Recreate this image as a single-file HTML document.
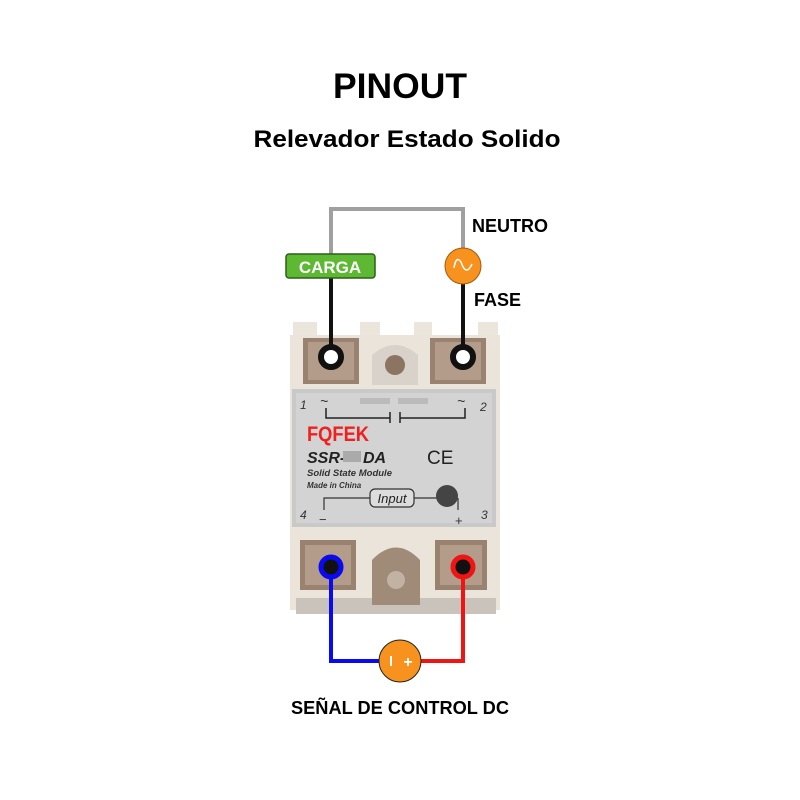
<!DOCTYPE html>
<html><head><meta charset="utf-8"><style>html,body{margin:0;padding:0;background:#fff}svg{display:block}</style></head>
<body>
<svg width="800" height="800" viewBox="0 0 800 800" xmlns="http://www.w3.org/2000/svg" font-family="Liberation Sans, sans-serif">
<rect width="800" height="800" fill="#fff"/>
<text x="400" y="98" text-anchor="middle" font-size="35" font-weight="bold" textLength="134" lengthAdjust="spacingAndGlyphs">PINOUT</text>
<text x="407" y="147" text-anchor="middle" font-size="24" font-weight="bold" textLength="307" lengthAdjust="spacingAndGlyphs">Relevador Estado Solido</text>
<!-- relay body -->
<rect x="293" y="322" width="24" height="30" fill="#ece5db"/>
<rect x="478" y="322" width="20" height="30" fill="#ece5db"/>
<rect x="360" y="322" width="20" height="30" fill="#ece5db"/>
<rect x="414" y="322" width="18" height="30" fill="#ece5db"/>
<rect x="290" y="335" width="210" height="275" fill="#ebe4da"/>
<rect x="296" y="598" width="200" height="16" fill="#c9c3bb"/>
<!-- top terminals -->
<rect x="303" y="338" width="56" height="46" fill="#9a8270"/>
<rect x="308" y="342" width="46" height="38" fill="#b39c8a"/>
<rect x="430" y="338" width="56" height="46" fill="#9a8270"/>
<rect x="435" y="342" width="46" height="38" fill="#b39c8a"/>
<path d="M372 385 V355 Q395 335 418 355 V385 Z" fill="#d9d2ca"/>
<circle cx="395" cy="365" r="10" fill="#8c7462"/>
<!-- plate -->
<rect x="292" y="389" width="204" height="138" fill="#c9c9c9"/>
<rect x="296" y="393" width="196" height="130" fill="#d3d3d3"/>
<g fill="#333" font-style="italic" font-size="12">
<text x="300" y="409">1</text><text x="480" y="411">2</text>
<text x="300" y="519">4</text><text x="481" y="519">3</text>
<text x="320" y="406" font-size="14">~</text><text x="457" y="406" font-size="14">~</text>
</g>
<path d="M326 408 V418 H390 M400 418 H465 V408 M390 412 V423 M400 412 V423" stroke="#222" stroke-width="1.5" fill="none"/>
<rect x="360" y="398" width="30" height="6" fill="#bbb"/><rect x="398" y="398" width="30" height="6" fill="#bbb"/>
<text x="307" y="441" font-size="21" font-weight="bold" fill="#f02020" textLength="62" lengthAdjust="spacingAndGlyphs">FQFEK</text>
<text x="307" y="463" font-size="16" font-weight="bold" font-style="italic" fill="#222">SSR-</text>
<rect x="343" y="451" width="18" height="11" fill="#aaa"/>
<text x="363" y="463" font-size="16" font-weight="bold" font-style="italic" fill="#222">DA</text>
<text x="427" y="464" font-size="19" fill="#222">CE</text>
<text x="307" y="476" font-size="9.5" font-style="italic" font-weight="bold" fill="#333">Solid State Module</text>
<text x="307" y="488" font-size="8" font-style="italic" font-weight="bold" fill="#333">Made in China</text>
<path d="M324 510 V498 H370 M414 498 H440 M458 498 V510" stroke="#333" stroke-width="1.2" fill="none"/>
<rect x="370" y="489" width="44" height="18" rx="5" fill="#ddd" stroke="#333" stroke-width="1.2"/>
<text x="392" y="503" text-anchor="middle" font-size="13" font-style="italic" fill="#222">Input</text>
<circle cx="447" cy="496" r="11" fill="#444"/>
<text x="319" y="524" font-size="13" fill="#333">−</text><text x="455" y="525" font-size="13" fill="#333">+</text>
<!-- bottom terminals -->
<rect x="300" y="540" width="56" height="50" fill="#9a8270"/>
<rect x="305" y="545" width="46" height="40" fill="#b39c8a"/>
<rect x="435" y="540" width="52" height="50" fill="#9a8270"/>
<rect x="440" y="545" width="42" height="40" fill="#b39c8a"/>
<path d="M372 605 V560 Q396 535 420 560 V605 Z" fill="#a08a78"/>
<circle cx="396" cy="580" r="9" fill="#c2b2a4"/>
<!-- wires -->
<path d="M331 255 V209 H463 V250" stroke="#a0a0a0" stroke-width="4" fill="none"/>
<path d="M331 278 V355 M463 282 V357" stroke="#111" stroke-width="4" fill="none"/>
<circle cx="331" cy="357" r="10" fill="#fff" stroke="#111" stroke-width="6"/>
<circle cx="463" cy="357" r="10" fill="#fff" stroke="#111" stroke-width="6"/>
<rect x="286" y="254" width="89" height="24" rx="3" fill="#5db832" stroke="#2f5e1a" stroke-width="1.5"/>
<text x="330" y="273" text-anchor="middle" font-size="17" font-weight="bold" fill="#fff">CARGA</text>
<circle cx="463" cy="266" r="18" fill="#f7921e" stroke="#a35a10" stroke-width="1"/>
<path d="M454 268 Q456 255 461 262 Q466 277 472 264" stroke="#fff" stroke-width="1.5" fill="none"/>
<text x="472" y="232" font-size="18" font-weight="bold">NEUTRO</text>
<text x="474" y="306" font-size="18" font-weight="bold">FASE</text>
<path d="M331 566 V661 H380" stroke="#0a0af0" stroke-width="4" fill="none"/>
<path d="M463 566 V661 H420" stroke="#f01515" stroke-width="4" fill="none"/>
<circle cx="331" cy="567" r="10" fill="#111" stroke="#0a0af0" stroke-width="5"/>
<circle cx="463" cy="567" r="10" fill="#111" stroke="#f01515" stroke-width="5"/>
<circle cx="400" cy="661" r="21" fill="#f7921e" stroke="#222" stroke-width="1"/>
<rect x="390" y="656" width="2" height="10" fill="#fff"/>
<text x="408" y="667" text-anchor="middle" font-size="16" font-weight="bold" fill="#fff">+</text>
<text x="400" y="714" text-anchor="middle" font-size="18" font-weight="bold" textLength="218" lengthAdjust="spacingAndGlyphs">SEÑAL DE CONTROL DC</text>
</svg>
</body></html>
